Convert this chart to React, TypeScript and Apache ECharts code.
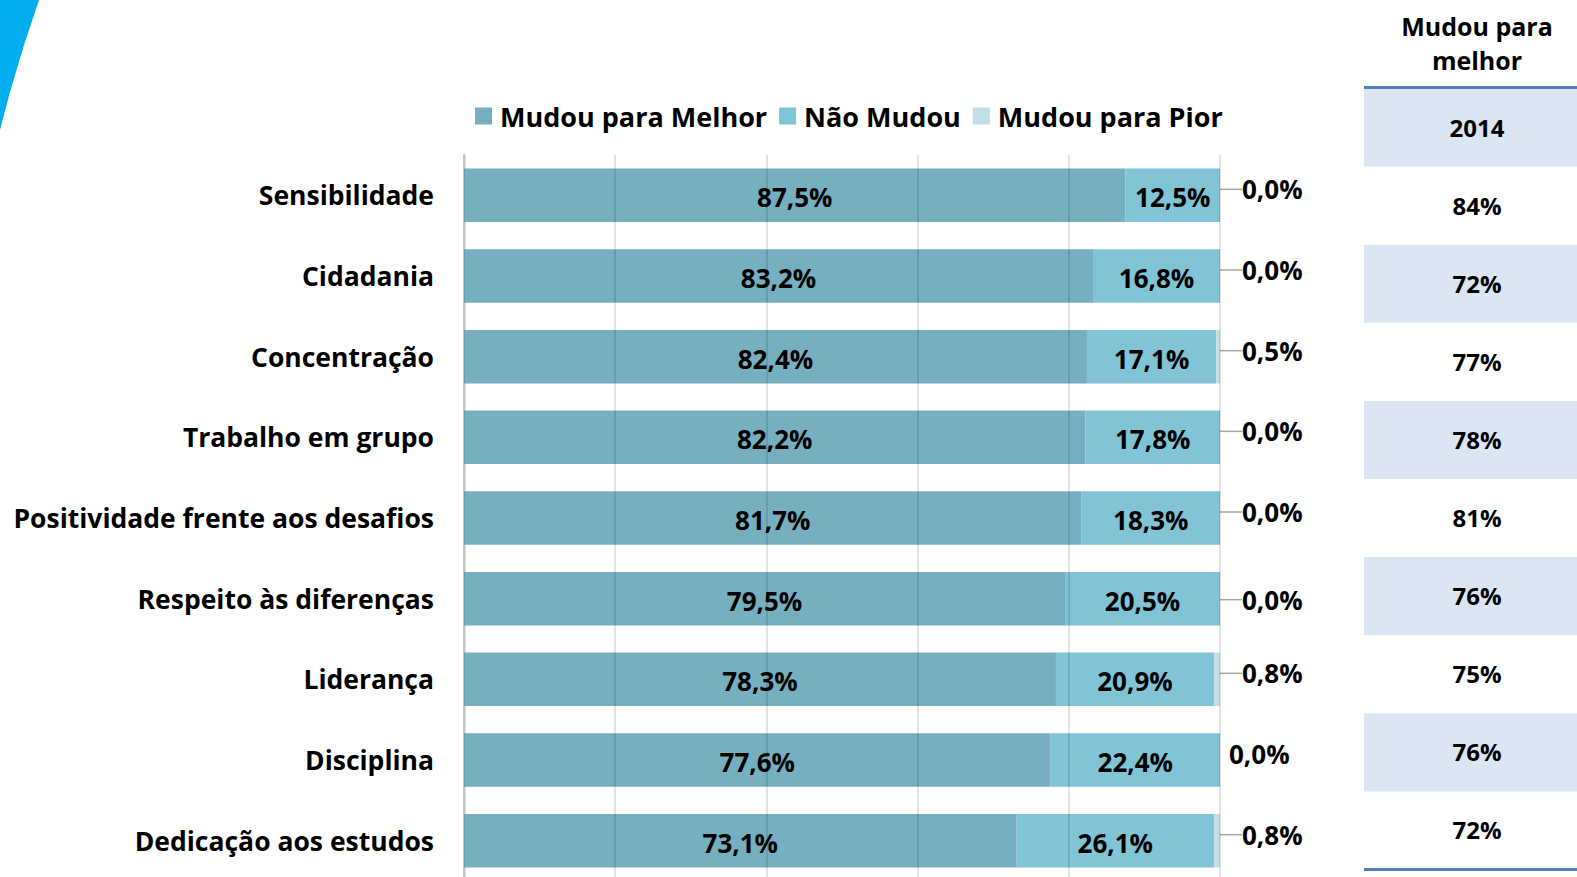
import React, { useEffect, useRef } from "react";
import * as echarts from "echarts";

const categories = [
  "Sensibilidade",
  "Cidadania",
  "Concentração",
  "Trabalho em grupo",
  "Positividade frente aos desafios",
  "Respeito às diferenças",
  "Liderança",
  "Disciplina",
  "Dedicação aos estudos",
];
const melhor = [87.5, 83.2, 82.4, 82.2, 81.7, 79.5, 78.3, 77.6, 73.1];
const naoMudou = [12.5, 16.8, 17.1, 17.8, 18.3, 20.5, 20.9, 22.4, 26.1];
const pior = [0.0, 0.0, 0.5, 0.0, 0.0, 0.0, 0.8, 0.0, 0.8];
const seriesNames = ["Mudou para Melhor", "Não Mudou", "Mudou para Pior"];

const tableHeader = ["Mudou para", "melhor"];
const tableYear = "2014";
const table2014 = ["84%", "72%", "77%", "78%", "81%", "76%", "75%", "76%", "72%"];

const FONT = "'Open Sans', sans-serif";
const fmt = (v: number) => v.toFixed(1).replace(".", ",") + "%";

export default function App() {
  const ref = useRef<HTMLDivElement>(null);
  useEffect(() => {
    if (!ref.current) return;
    const chart = echarts.init(ref.current, null, { renderer: "svg" });

    const tx = 1364;
    const tw = 213;
    const cx = 1477;
    const rowTop = 88.5;
    const rowH = 78.1;
    const rows = [tableYear, ...table2014];
    const graphics: any[] = [
      {
        type: "polygon",
        shape: { points: [[0, 0], [39, 0], [24, 45], [10, 92], [0, 130]] },
        style: { fill: "#00AEEF" },
        silent: true,
      },
      ...tableHeader.map((t, i) => ({
        type: "text",
        x: cx,
        y: 26 + i * 34,
        style: { text: t, fill: "#000", font: `bold 25px ${FONT}`, align: "center", verticalAlign: "middle" },
      })),
    ];
    rows.forEach((t, i) => {
      if (i % 2 === 0) {
        graphics.push({
          type: "rect",
          shape: { x: tx, y: rowTop + i * rowH, width: tw, height: rowH },
          style: { fill: "#DCE6F2" },
          z: 0,
        });
      }
      graphics.push({
        type: "text",
        x: cx,
        y: rowTop + i * rowH + rowH / 2 - 0.5,
        style: { text: t, fill: "#000", font: `bold 24px ${FONT}`, align: "center", verticalAlign: "middle" },
        z: 2,
      });
    });
    graphics.push({
      type: "line",
      shape: { x1: tx, y1: rowTop - 1, x2: tx + tw, y2: rowTop - 1 },
      style: { stroke: "#4F81BD", lineWidth: 3 },
      z: 3,
    });
    graphics.push({
      type: "line",
      shape: { x1: tx, y1: rowTop + rows.length * rowH, x2: tx + tw, y2: rowTop + rows.length * rowH },
      style: { stroke: "#4F81BD", lineWidth: 3 },
      z: 3,
    });

    const innerLabel = {
      show: true,
      position: "inside",
      color: "#000",
      fontFamily: FONT,
      fontWeight: "bold",
      fontSize: 26,
      offset: [0, 2],
      formatter: (p: any) => fmt(p.value),
    };

    chart.setOption({
      animation: false,
      graphic: graphics,
      legend: {
        data: seriesNames,
        left: 475,
        top: 101,
        padding: 0,
        itemWidth: 17,
        itemHeight: 17,
        itemGap: 12,
        icon: "rect",
        textStyle: {
          fontFamily: FONT,
          fontWeight: "bold",
          fontSize: 27,
          lineHeight: 30,
          color: "#000",
          padding: [0, 0, 0, 3],
        },
      },
      grid: { left: 464, right: 357, top: 155, height: 726, containLabel: false },
      xAxis: {
        type: "value",
        min: 0,
        max: 100,
        interval: 20,
        z: 5,
        axisLabel: { show: false },
        axisLine: { show: false },
        axisTick: { show: false },
        splitLine: { show: true, lineStyle: { color: "rgba(0,0,0,0.15)", width: 1.5 } },
      },
      yAxis: {
        type: "category",
        data: categories,
        inverse: true,
        axisTick: { show: false },
        axisLine: { show: true, lineStyle: { color: "#D9D9D9", width: 2.5 } },
        axisLabel: {
          margin: 30,
          color: "#000",
          fontFamily: FONT,
          fontWeight: "bold",
          fontSize: 26.5,
        },
      },
      series: [
        {
          name: seriesNames[0],
          type: "bar",
          stack: "t",
          barWidth: 53.5,
          data: melhor,
          itemStyle: { color: "#76AFBF" },
          label: innerLabel,
        },
        {
          name: seriesNames[1],
          type: "bar",
          stack: "t",
          barWidth: 53.5,
          data: naoMudou,
          itemStyle: { color: "#80C4D6" },
          label: innerLabel,
        },
        {
          name: seriesNames[2],
          type: "bar",
          stack: "t",
          barWidth: 53.5,
          data: pior.map((v, i) =>
            i === 7 ? { value: v, labelLine: { show: false } } : { value: v }
          ),
          itemStyle: { color: "#C3DEE7" },
          label: {
            show: true,
            position: "right",
            distance: 4,
            color: "#000",
            fontFamily: FONT,
            fontWeight: "bold",
            fontSize: 26,
            formatter: (p: any) => fmt(p.value),
          },
          labelLine: { show: true, lineStyle: { color: "#A6A6A6", width: 1.5 } },
          labelLayout: (p: any) =>
            p.dataIndex === 7 ? { dx: 5, dy: -6 } : p.dataIndex === 5 ? { dx: 18, dy: 1 } : { dx: 18, dy: -6 },
        },
      ],
    });
    return () => chart.dispose();
  }, []);
  return (
    <div
      style={{ position: "absolute", left: 0, top: 0, width: 1577, height: 877, overflow: "hidden", background: "#fff" }}
    >
      <div ref={ref} style={{ width: 1577, height: 886 }} />
    </div>
  );
}
